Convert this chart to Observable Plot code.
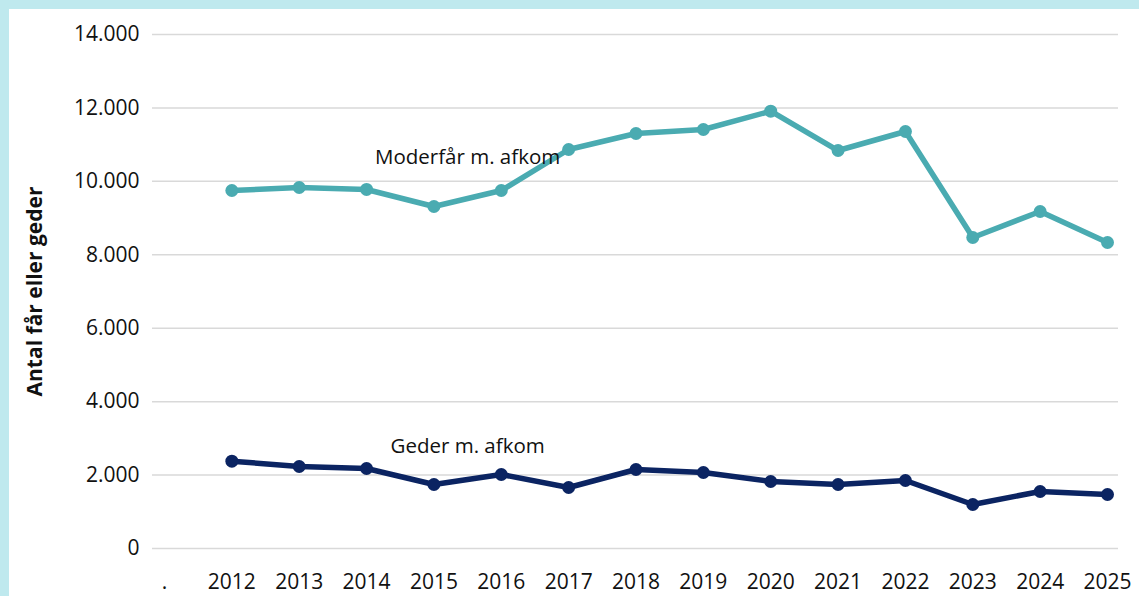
<!DOCTYPE html>
<html>
<head>
<meta charset="utf-8">
<script src="https://cdn.jsdelivr.net/npm/d3@7"></script>
<script src="https://cdn.jsdelivr.net/npm/@observablehq/plot@0.6"></script>
<style>
  html, body { margin: 0; padding: 0; background: #bfe9ee; width: 1139px; height: 596px; overflow: hidden; }
  #panel { position: absolute; left: 9px; top: 9px; right: 0; bottom: 0; background: #ffffff; }
  #chart { position: absolute; left: 0; top: 0; }
  g[aria-label="y-axis label"] text { font-weight: bold; }
</style>
</head>
<body>
<div id="panel"><div id="chart"></div></div>
<script>
const years = [2012, 2013, 2014, 2015, 2016, 2017, 2018, 2019, 2020, 2021, 2022, 2023, 2024, 2025];
const moderfaar = [9751, 9833, 9779, 9315, 9751, 10868, 11304, 11413, 11912, 10840, 11358, 8471, 9179, 8335];
const geder = [2378, 2234, 2179, 1743, 2016, 1662, 2152, 2070, 1825, 1743, 1852, 1198, 1553, 1471];
const xTickValues = [2011, 2012, 2013, 2014, 2015, 2016, 2017, 2018, 2019, 2020, 2021, 2022, 2023, 2024, 2025];
const xTickLabels = [".", "2012", "2013", "2014", "2015", "2016", "2017", "2018", "2019", "2020", "2021", "2022", "2023", "2024", "2025"];
const yTicks = [0, 2000, 4000, 6000, 8000, 10000, 12000, 14000];
const seriesNames = ["Moderfår m. afkom", "Geder m. afkom"];
const seriesColors = ["#4aabb1", "#0b2462"];
const labelX = [2015.5, 2015.5];
const labelY = [10650, 2780];

const data = [];
years.forEach((yr, i) => {
  data.push({year: yr, value: moderfaar[i], series: seriesNames[0]});
  data.push({year: yr, value: geder[i], series: seriesNames[1]});
});
const labels = seriesNames.map((s, i) => ({series: s, x: labelX[i], y: labelY[i]}));
const fmt = d => d3.format(",")(d).replace(/,/g, ".");

const chart = Plot.plot({
  width: 1130,
  height: 587,
  marginLeft: 143,
  marginRight: 21,
  marginTop: 25,
  marginBottom: 48,
  style: {fontFamily: "'Open Sans', sans-serif", fontSize: "21px", color: "#111", background: "transparent"},
  x: {domain: [2011, 2025], insetLeft: 12, insetRight: 11},
  y: {domain: [0, 14000]},
  color: {domain: seriesNames, range: seriesColors},
  marks: [
    Plot.gridY(yTicks, {stroke: "#d9d9d9", strokeOpacity: 1, strokeWidth: 1.5}),
    Plot.axisY({ticks: yTicks, tickSize: 0, tickPadding: 13, tickFormat: fmt,
      label: "Antal får eller geder", labelAnchor: "center", labelOffset: 125, labelArrow: "none"}),
    Plot.axisX({ticks: xTickValues, tickSize: 0, tickPadding: 26,
      tickFormat: d => xTickLabels[xTickValues.indexOf(d)], label: null}),
    Plot.line(data, {x: "year", y: "value", z: "series", stroke: "series", strokeWidth: 5.5}),
    Plot.dot(data, {x: "year", y: "value", fill: "series", r: 6.5}),
    Plot.text(labels, {x: "x", y: "y", text: "series", fill: "#111", fontSize: 20.5})
  ]
});
document.getElementById("chart").appendChild(chart);
</script>
</body>
</html>
